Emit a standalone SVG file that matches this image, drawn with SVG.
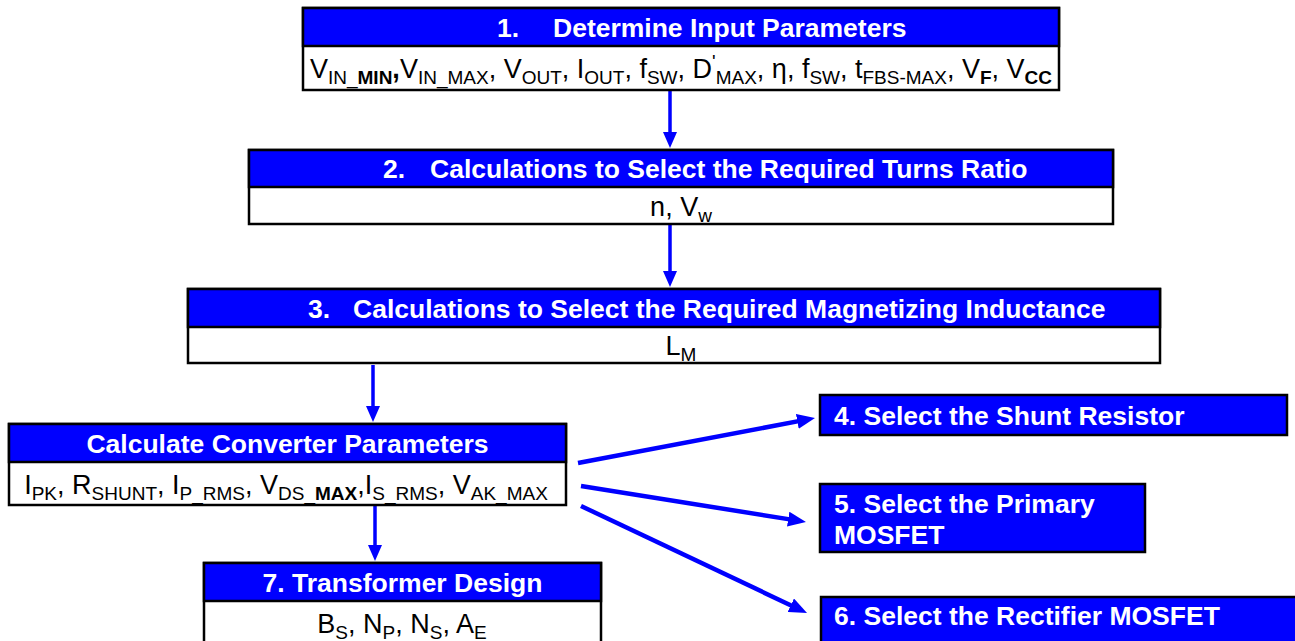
<svg xmlns="http://www.w3.org/2000/svg" width="1295" height="641" viewBox="0 0 1295 641">
<style>
.bx{fill:#fff;stroke:#000;stroke-width:2.5}
.hd{fill:#0000FF;stroke:#000;stroke-width:2.5}
.t{font-family:"Liberation Sans",Arial,sans-serif;font-weight:bold;font-size:26.5px;fill:#fff}
.p{font-family:"Liberation Sans",Arial,sans-serif;font-size:27px;fill:#000}
.s{font-size:19px}
.b{font-weight:bold}
.cv{stroke:#0000FF;stroke-width:3.5;fill:none}
.cd{stroke:#0000FF;stroke-width:4.5;fill:none}
</style>
<defs>
<marker id="av" markerUnits="userSpaceOnUse" markerWidth="16" markerHeight="14" refX="6" refY="7" orient="auto"><path d="M0,0 L16,7 L0,14 z" fill="#0000FF"/></marker>
<marker id="ad" markerUnits="userSpaceOnUse" markerWidth="18" markerHeight="15" refX="8" refY="7.5" orient="auto"><path d="M0,0 L18,7.5 L0,15 z" fill="#0000FF"/></marker>
</defs>
<g id="connectors">
<line class="cv" x1="670" y1="90" x2="670" y2="138" marker-end="url(#av)"/>
<line class="cv" x1="670" y1="224" x2="670" y2="277" marker-end="url(#av)"/>
<line class="cv" x1="373" y1="365" x2="373" y2="412" marker-end="url(#av)"/>
<line class="cv" x1="375" y1="505" x2="375" y2="551" marker-end="url(#av)"/>
<line class="cd" x1="578" y1="463" x2="805.2" y2="419.9" marker-end="url(#ad)"/>
<line class="cd" x1="581" y1="486" x2="796.1" y2="520.4" marker-end="url(#ad)"/>
<line class="cd" x1="581" y1="506" x2="798" y2="608.7" marker-end="url(#ad)"/>
</g>
<g id="n1">
<rect class="bx" x="303" y="8" width="756" height="82"/>
<rect class="hd" x="303" y="8" width="756" height="38"/>
<text class="t" x="497" y="37">1.</text>
<text class="t" x="553" y="37">Determine Input Parameters</text>
<text class="p" x="681" y="78" text-anchor="middle">V<tspan class="s" dy="6">IN_</tspan><tspan class="s b">MIN</tspan><tspan class="b" dy="-6">,</tspan>V<tspan class="s" dy="6">IN_MAX</tspan><tspan dy="-6">, V</tspan><tspan class="s" dy="6">OUT</tspan><tspan dy="-6">, I</tspan><tspan class="s" dy="6">OUT</tspan><tspan dy="-6">, f</tspan><tspan class="s" dy="6">SW</tspan><tspan dy="-6">, D</tspan><tspan class="s" dy="-10">'</tspan><tspan class="s" dy="16">MAX</tspan><tspan dy="-6">, η, f</tspan><tspan class="s" dy="6">SW</tspan><tspan dy="-6">, t</tspan><tspan class="s" dy="6">FBS-MAX</tspan><tspan dy="-6">, V</tspan><tspan class="s b" dy="6">F</tspan><tspan dy="-6">, V</tspan><tspan class="s b" dy="6">CC</tspan></text>
</g>
<g id="n2">
<rect class="bx" x="249" y="150" width="864" height="74"/>
<rect class="hd" x="249" y="150" width="864" height="37"/>
<text class="t" x="383" y="178">2.</text>
<text class="t" x="430" y="178">Calculations to Select the Required Turns Ratio</text>
<text class="p" x="681" y="216" text-anchor="middle">n, V<tspan class="s" dy="6">w</tspan></text>
</g>
<g id="n3">
<rect class="bx" x="188" y="289" width="972" height="74"/>
<rect class="hd" x="188" y="289" width="972" height="38"/>
<text class="t" x="308" y="318">3.</text>
<text class="t" x="353" y="318">Calculations to Select the Required Magnetizing Inductance</text>
<text class="p" x="681" y="355" text-anchor="middle">L<tspan class="s" dy="6">M</tspan></text>
</g>
<g id="ccp">
<rect class="bx" x="9" y="424" width="557" height="81"/>
<rect class="hd" x="9" y="424" width="557" height="38"/>
<text class="t" x="287.5" y="452.5" text-anchor="middle">Calculate Converter Parameters</text>
<text class="p" x="286" y="494" text-anchor="middle">I<tspan class="s" dy="6">PK</tspan><tspan dy="-6">, R</tspan><tspan class="s" dy="6">SHUNT</tspan><tspan dy="-6">, I</tspan><tspan class="s" dy="6">P_RMS</tspan><tspan dy="-6">, V</tspan><tspan class="s" dy="6">DS_</tspan><tspan class="s b">MAX</tspan><tspan dy="-6">,I</tspan><tspan class="s" dy="6">S_RMS</tspan><tspan dy="-6">, V</tspan><tspan class="s" dy="6">AK_MAX</tspan></text>
</g>
<g id="n4">
<rect class="hd" x="820" y="395" width="467" height="40"/>
<text class="t" x="834" y="424.5">4. Select the Shunt Resistor</text>
</g>
<g id="n5">
<rect class="hd" x="820" y="484" width="325" height="68"/>
<text class="t" x="834" y="512.5">5. Select the Primary</text>
<text class="t" x="834" y="543.5">MOSFET</text>
</g>
<g id="n6">
<rect class="hd" x="821" y="597" width="500" height="60"/>
<text class="t" x="834" y="624.5">6. Select the Rectifier MOSFET</text>
</g>
<g id="n7">
<rect class="bx" x="204" y="563" width="397" height="85"/>
<rect class="hd" x="204" y="563" width="397" height="38"/>
<text class="t" x="402.5" y="592" text-anchor="middle">7. Transformer Design</text>
<text class="p" x="402" y="633" text-anchor="middle">B<tspan class="s" dy="6">S</tspan><tspan dy="-6">, N</tspan><tspan class="s" dy="6">P</tspan><tspan dy="-6">, N</tspan><tspan class="s" dy="6">S</tspan><tspan dy="-6">, A</tspan><tspan class="s" dy="6">E</tspan></text>
</g>
</svg>
